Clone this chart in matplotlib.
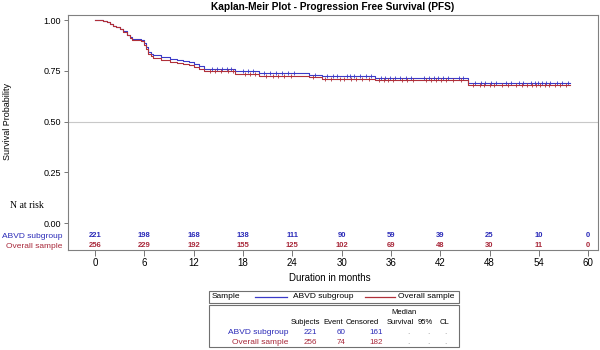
import matplotlib.pyplot as plt
import numpy as np
from matplotlib.lines import Line2D
from matplotlib.patches import Rectangle

plt.rcParams['font.family'] = ['Liberation Sans', 'DejaVu Sans']

BLUE = '#3a3ac8'
RED = '#b0303a'
BLUE_TXT = '#2a2ab8'
RED_TXT = '#a8283a'

# Kaplan-Meier step estimates (months, survival)
abvd_t = [0, 1.0, 1.4, 1.8, 2.2, 2.6, 3.0, 3.4, 3.85, 4.2, 4.5, 5.6, 5.9, 6.2, 6.5, 6.8, 7.1, 8.0, 9.1,
          10.0, 10.7, 11.4, 12.0, 12.6, 13.2, 17.0, 20.0, 26.0, 27.6, 34.1, 45.4, 57.8]
abvd_s = [1.0, 0.995, 0.99, 0.98, 0.97, 0.965, 0.958, 0.945, 0.926, 0.915, 0.905, 0.9, 0.885, 0.865, 0.845,
          0.835, 0.828, 0.82, 0.81, 0.805, 0.80, 0.792, 0.785, 0.772, 0.76, 0.748, 0.74, 0.73, 0.725, 0.715, 0.69, 0.69]
overall_t = [0, 1.0, 1.4, 1.8, 2.2, 2.6, 3.0, 3.4, 3.85, 4.2, 4.5, 5.6, 5.9, 6.2, 6.5, 6.8, 7.1, 8.0, 9.1,
             10.0, 10.7, 11.4, 12.0, 12.6, 13.2, 17.0, 20.0, 26.0, 27.6, 34.1, 45.4, 57.8]
overall_s = [1.0, 0.995, 0.99, 0.98, 0.97, 0.964, 0.956, 0.943, 0.924, 0.913, 0.903, 0.897, 0.878, 0.855, 0.835,
             0.822, 0.815, 0.805, 0.795, 0.79, 0.785, 0.777, 0.77, 0.76, 0.75, 0.735, 0.725, 0.72, 0.71, 0.705, 0.68, 0.68]

# censoring times (approximate)
abvd_cens = [14.2, 14.8, 15.5, 16.0, 16.5, 18.0, 18.6, 19.2, 20.5, 21.3, 22.0, 22.8, 23.5, 24.2,
             26.8, 28.2, 28.9, 29.5, 30.6, 31.0, 31.5, 32.2, 33.0, 33.6, 34.8, 35.3, 35.9, 36.5,
             37.1, 37.8, 38.4, 40.0, 40.6, 41.2, 41.7, 42.4, 43.0, 44.3, 44.8, 46.2, 47.0, 47.5,
             48.2, 48.8, 50.0, 50.6, 51.6, 52.1, 53.0, 53.5, 53.9, 54.4, 54.9, 55.4, 56.2, 56.8, 57.5]
overall_cens = [14.0, 14.6, 15.3, 16.2, 16.8, 18.2, 18.9, 19.5, 20.8, 21.6, 22.3, 23.0, 23.8,
                26.5, 28.0, 28.7, 29.8, 30.3, 31.2, 31.8, 32.5, 33.3, 34.5, 35.1, 35.7, 36.3,
                37.4, 38.0, 38.7, 40.3, 40.9, 41.5, 42.1, 42.7, 43.5, 44.5, 46.0, 46.8, 47.3,
                48.0, 48.6, 49.5, 50.3, 51.2, 51.9, 52.5, 53.2, 53.7, 54.2, 54.7, 55.2, 56.0, 56.6, 57.3]

risk_times = [0, 6, 12, 18, 24, 30, 36, 42, 48, 54, 60]
abvd_risk = [221, 198, 168, 138, 111, 90, 59, 39, 25, 10, 0]
overall_risk = [256, 229, 192, 155, 125, 102, 69, 48, 30, 11, 0]

groups = ['ABVD subgroup', 'Overall sample']
subjects = [221, 256]
events = [60, 74]
censored = [161, 182]

W, H = 600, 350
fig = plt.figure(figsize=(6, 3.5), dpi=100)


def fx(x):
    return x / W


def fy(y):
    return 1 - y / H


ax = fig.add_axes([fx(68), fy(250), fx(598) - fx(68), fy(15) - fy(250)])
ax.set_xlim(-3.29, 61.2)
ax.set_ylim(-0.133, 1.025)

ax.axhline(0.5, color='#c8c8c8', lw=0.8, zorder=0)

for t, s, c, col in [(abvd_t, abvd_s, abvd_cens, BLUE),
                     (overall_t, overall_s, overall_cens, RED)]:
    ax.step(t, s, where='post', color=col, lw=0.8)
    idx = np.searchsorted(t, c, side='right') - 1
    ax.plot(c, np.array(s)[idx], ls='none', marker='+', ms=3.5, mew=0.6, color=col)

for x, a, o in zip(risk_times, abvd_risk, overall_risk):
    ax.text(x, -0.064, str(a), color=BLUE_TXT, fontsize=5.5, fontweight='bold', ha='center', va='center')
    ax.text(x, -0.113, str(o), color=RED_TXT, fontsize=5.5, fontweight='bold', ha='center', va='center')

ax.set_xticks(risk_times)
ax.set_yticks([0, 0.25, 0.5, 0.75, 1.0])
ax.set_yticklabels(['0.00', '0.25', '0.50', '0.75', '1.00'])
ax.tick_params(axis='x', labelsize=7, length=4, width=0.6, color='#606060', pad=2)
ax.tick_params(axis='y', labelsize=6.5, length=3, width=0.6, color='#606060', pad=2)
for sp in ax.spines.values():
    sp.set_color('#808080')
    sp.set_linewidth(0.8)

fig.text(fx(333), fy(7), 'Kaplan-Meir Plot - Progression Free Survival (PFS)',
         fontsize=7.3, fontweight='bold', ha='center', va='center')
fig.text(fx(8), fy(122), 'Survival Probability', fontsize=6.5, rotation=90, ha='center', va='center')
fig.text(fx(330), fy(278), 'Duration in months', fontsize=7, ha='center', va='center')
fig.text(fx(10), fy(205), 'N at risk', fontsize=7, family=['Liberation Serif'], ha='left', va='center')
fig.text(fx(62), fy(236), groups[0], fontsize=6, color=BLUE_TXT, ha='right', va='center')
fig.text(fx(62), fy(246), groups[1], fontsize=6, color=RED_TXT, ha='right', va='center')

# legend box
fig.add_artist(Rectangle((fx(209), fy(303)), fx(459) - fx(209), fy(291) - fy(303),
                         transform=fig.transFigure, fill=False, ec='#707070', lw=0.8))
fig.text(fx(212), fy(297), 'Sample', fontsize=6, ha='left', va='center')
fig.add_artist(Line2D([fx(255), fx(287)], [fy(297), fy(297)], transform=fig.transFigure, color=BLUE, lw=0.9))
fig.text(fx(293), fy(297), groups[0], fontsize=6, ha='left', va='center')
fig.add_artist(Line2D([fx(365), fx(395)], [fy(297), fy(297)], transform=fig.transFigure, color=RED, lw=0.9))
fig.text(fx(398), fy(297), groups[1], fontsize=6, ha='left', va='center')

# summary table
fig.add_artist(Rectangle((fx(209), fy(347)), fx(459) - fx(209), fy(305) - fy(347),
                         transform=fig.transFigure, fill=False, ec='#707070', lw=0.8))
fig.text(fx(404), fy(312), 'Median', fontsize=5.5, ha='center', va='center')
for x, h in [(305, 'Subjects'), (333, 'Event'), (362, 'Censored'), (400, 'Survival'), (425, '95%'), (444, 'CL')]:
    fig.text(fx(x), fy(323), h, fontsize=5.5, ha='center', va='center')
for i, (y, col) in enumerate([(333, BLUE_TXT), (342, RED_TXT)]):
    fig.text(fx(288), fy(y), groups[i], fontsize=6, color=col, ha='right', va='center')
    fig.text(fx(310), fy(y), str(subjects[i]), fontsize=5.8, color=col, ha='center', va='center')
    fig.text(fx(341), fy(y), str(events[i]), fontsize=5.8, color=col, ha='center', va='center')
    fig.text(fx(376), fy(y), str(censored[i]), fontsize=5.8, color=col, ha='center', va='center')
    for x in [408, 428, 445]:
        fig.text(fx(x), fy(y), '.', fontsize=6, color='#909090', ha='center', va='center')

fig.savefig('out.png', dpi=100)
